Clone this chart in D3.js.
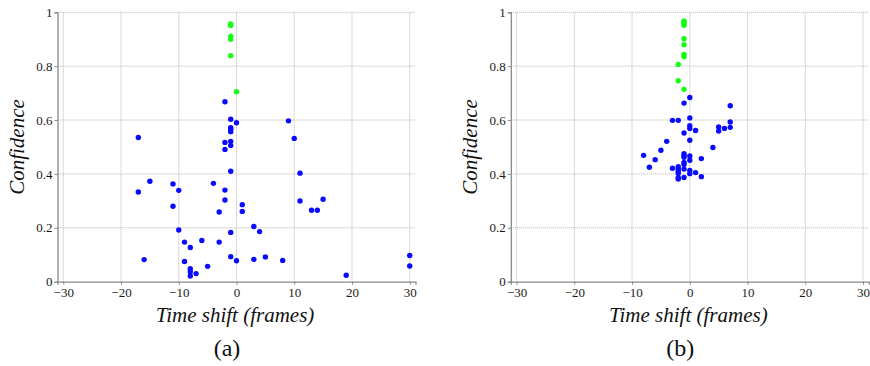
<!DOCTYPE html>
<html>
<head>
<meta charset="utf-8">
<script src="https://d3js.org/d3.v7.min.js"></script>
<style>
  body { margin: 0; background: #fff; }
  .title { font-family: "Liberation Serif", serif; font-style: italic; font-size: 21px; fill: #111; }
  .caption { font-family: "Liberation Serif", serif; font-size: 24px; fill: #111; }
</style>
</head>
<body>
<div id="chart"></div>
<script>
var W = 870, H = 366;

// panel (a): time shift / confidence
var shiftA = [-1, -1, -1, -1, -1, 0,
    -2, -1, 0, -1, -1, -1, -2, -1, -1, -2, -1,
    -17, -17, -15, -11, -10, -11, -4, -2, -2, -3, 1, 1,
    -10, -9, -8, -6, -3, -1, 3, 4,
    -16, -9, -8, -8, -8, -7, -5, -1, 0, 3, 5, 8,
    9, 10, 11, 11, 13, 14, 15, 19, 30, 30];
var confA = [0.957, 0.951, 0.911, 0.900, 0.839, 0.705,
    0.668, 0.603, 0.590, 0.572, 0.566, 0.557, 0.517, 0.521, 0.506, 0.491, 0.410,
    0.535, 0.333, 0.373, 0.363, 0.339, 0.280, 0.365, 0.340, 0.303, 0.259, 0.286, 0.261,
    0.192, 0.147, 0.127, 0.153, 0.147, 0.183, 0.205, 0.186,
    0.082, 0.075, 0.048, 0.037, 0.021, 0.030, 0.057, 0.093, 0.078, 0.083, 0.092, 0.079,
    0.597, 0.532, 0.403, 0.300, 0.265, 0.265, 0.306, 0.024, 0.097, 0.058];

// panel (b)
var shiftB = [-1, -1, -1, -1, -1, -1, -1, -1, -2, -2, -1,
    0, -1, 7, -3, -2, 0, 0, 0, 1, -1, 5, 5, 6, 7, 7,
    0, -4, 4, -5, -8, -6, -7,
    -1, -1, -1, 0, 0, 2, -1, -1, -3,
    -2, -2, -2, -2, -1, 0, 0, 1, -2, -2, -1, 2];
var confB = [0.968, 0.962, 0.957, 0.952, 0.902, 0.880, 0.844, 0.835, 0.806, 0.746, 0.714,
    0.684, 0.663, 0.653, 0.599, 0.599, 0.608, 0.579, 0.569, 0.561, 0.552, 0.574, 0.559, 0.569, 0.593, 0.573,
    0.525, 0.521, 0.498, 0.488, 0.469, 0.453, 0.425,
    0.475, 0.468, 0.462, 0.467, 0.451, 0.457, 0.443, 0.435, 0.421,
    0.427, 0.418, 0.410, 0.402, 0.418, 0.413, 0.401, 0.405, 0.386, 0.381, 0.387, 0.390];

var xTicks = [-30, -20, -10, 0, 10, 20, 30];
var yTicks = [0, 0.2, 0.4, 0.6, 0.8, 1];
var threshold = 0.7; // above this the dots are green
var captions = ["(a)", "(b)"];

var svg = d3.select("#chart").append("svg")
    .attr("width", W)
    .attr("height", H);

function drawPanel(offset, shifts, confs, caption) {
    var g = svg.append("g").attr("transform", "translate(" + offset + ",0)");

    var x = d3.scaleLinear().domain([-31, 31]).range([57.5, 415.5]);
    var y = d3.scaleLinear().domain([0, 1]).range([281.7, 12.3]);

    // dotted grid
    g.append("g").selectAll("line.gx")
        .data(xTicks).enter().append("line")
        .attr("x1", function(d) { return x(d); })
        .attr("x2", function(d) { return x(d); })
        .attr("y1", y(0)).attr("y2", y(1))
        .attr("stroke", "#b4b4b4").attr("stroke-dasharray", "1,1");
    g.append("g").selectAll("line.gy")
        .data(yTicks.slice(1)).enter().append("line")
        .attr("x1", x.range()[0]).attr("x2", x.range()[1])
        .attr("y1", function(d) { return y(d); })
        .attr("y2", function(d) { return y(d); })
        .attr("stroke", "#b4b4b4").attr("stroke-dasharray", "1,1");

    var xAxis = d3.axisBottom(x).tickValues(xTicks).tickSize(3).tickPadding(3)
        .tickFormat(function(d) { return d < 0 ? "\u2212" + Math.abs(d) : d; });
    var yAxis = d3.axisLeft(y).tickValues(yTicks).tickSize(3).tickPadding(2)
        .tickFormat(function(d) { return d3.format("")(d); });

    var ax = g.append("g").attr("transform", "translate(0," + y(0) + ")").call(xAxis);
    var ay = g.append("g").attr("transform", "translate(" + x.range()[0] + ",0)").call(yAxis);
    [ax, ay].forEach(function(a) {
        a.attr("font-family", "Liberation Serif").attr("font-size", 13);
        a.select(".domain").attr("stroke", "#8a8a8a").attr("stroke-width", 1.3);
        a.selectAll(".tick line").attr("stroke", "#8a8a8a");
        a.selectAll(".tick text").attr("fill", "#1a1a1a");
    });

    g.append("g").selectAll("circle")
        .data(shifts.map(function(s, i) { return { s: s, c: confs[i] }; }))
        .enter().append("circle")
        .attr("cx", function(d) { return x(d.s); })
        .attr("cy", function(d) { return y(d.c); })
        .attr("r", 2.7)
        .attr("fill", function(d) { return d.c > threshold ? "#14ff14" : "#0a0aff"; });

    g.append("text")
        .attr("class", "title")
        .attr("transform", "translate(24,147) rotate(-90)")
        .attr("text-anchor", "middle")
        .text("Confidence");

    g.append("text")
        .attr("class", "title")
        .attr("x", 235).attr("y", 322)
        .attr("text-anchor", "middle")
        .text("Time shift (frames)");

    g.append("text")
        .attr("class", "caption")
        .attr("x", 227).attr("y", 356)
        .attr("text-anchor", "middle")
        .text(caption);
}

drawPanel(0, shiftA, confA, captions[0]);
drawPanel(453.3, shiftB, confB, captions[1]);
</script>
</body>
</html>
